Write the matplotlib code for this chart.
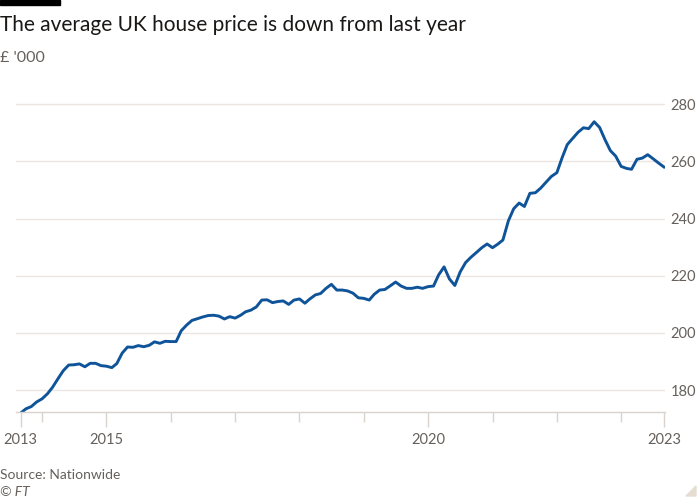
import numpy as np
import pandas as pd
import matplotlib
matplotlib.use('Agg')
import matplotlib.pyplot as plt
from matplotlib.patches import Rectangle, Polygon

# Nationwide average house price, monthly, Sep 2013 - Sep 2023 (£ '000)
start_month = '2013-09-01'
prices = [
    172.0, 173.5, 174.3, 175.9, 177.0, 178.8, 181.0, 184.0, 186.8, 188.8,
    188.9, 189.2, 188.2, 189.4, 189.4, 188.6, 188.4, 187.9, 189.3, 193.0,
    195.1, 195.0, 195.6, 195.2, 195.7, 196.9, 196.4, 197.1, 197.0, 197.0,
    200.8, 202.8, 204.4, 205.0, 205.6, 206.1, 206.2, 205.9, 204.9, 205.7,
    205.2, 206.2, 207.4, 208.0, 209.1, 211.5, 211.6, 210.6, 211.0, 211.2,
    210.0, 211.5, 211.9, 210.4, 211.9, 213.3, 213.8, 215.6, 217.0, 215.0,
    215.0, 214.7, 213.9, 212.3, 212.1, 211.5, 213.5, 215.0, 215.2, 216.5,
    217.8, 216.4, 215.6, 215.6, 216.0, 215.6, 216.2, 216.4, 220.3, 223.1,
    218.9, 216.6, 221.3, 224.6, 226.5, 228.1, 229.8, 231.1, 229.8, 231.1,
    232.5, 239.2, 243.4, 245.4, 244.2, 248.8, 249.0, 250.6, 252.7, 254.7,
    256.0, 261.4, 265.8, 268.0, 270.1, 271.7, 271.4, 273.8, 271.8, 267.6,
    263.7, 261.8, 258.2, 257.5, 257.2, 260.7, 261.1, 262.3, 260.9, 259.4,
    258.0,
]
dates = pd.date_range(start_month, periods=len(prices), freq='MS')

y_ticks = [180, 200, 220, 240, 260, 280]
major_labels = ['2013', '2015', '2020', '2023']
minor_years = [2014, 2016, 2017, 2018, 2019, 2021, 2022, 2023]

title = 'The average UK house price is down from last year'
subtitle = "£ '000"
source = 'Source: Nationwide'

plt.rcParams['font.family'] = ['Lato', 'DejaVu Sans']
grid_col = '#ebe6e1'
axis_col = '#d9d3cd'
text_grey = '#66605c'

fig = plt.figure(figsize=(7, 5), dpi=100)
ax = fig.add_axes([16/700, (500-411.7)/500, (665-16)/700, 313.4/500])

ax.plot(dates, prices, color='#0f5499', linewidth=2.1, solid_joinstyle='round')

ax.set_ylim(172.5, 282)
ax.set_xlim(dates[0] - pd.Timedelta(days=26), dates[-1] + pd.Timedelta(days=6))

# y axis on the right, gridlines only
ax.yaxis.tick_right()
ax.set_yticks(y_ticks)
ax.tick_params(axis='y', length=0, pad=4, labelsize=10.5, labelcolor=text_grey)
for v in y_ticks:
    ax.axhline(v, color=grid_col, linewidth=1, zorder=0)

# x axis ticks: first/last point plus 2015 and 2020
major_pos = [dates[0], pd.Timestamp('2015-01-01'), pd.Timestamp('2020-01-01'), dates[-1]]
ax.set_xticks(major_pos)
ax.set_xticklabels(major_labels)
ax.set_xticks([pd.Timestamp(f'{y}-01-01') for y in minor_years], minor=True)
ax.tick_params(axis='x', which='major', length=11, width=1, color=axis_col,
               pad=4, labelsize=10.5, labelcolor=text_grey)
ax.tick_params(axis='x', which='minor', length=7, width=1, color=axis_col)

for s in ['top', 'left', 'right']:
    ax.spines[s].set_visible(False)
ax.spines['bottom'].set_color(axis_col)
ax.spines['bottom'].set_linewidth(1)

# header and footer
fig.patches.append(Rectangle((0, 1 - 5/500), 60/700, 5/500, transform=fig.transFigure,
                             color='black', zorder=5))
fig.text(0, 1 - 25/500, title, fontsize=15, color='#1a1817', va='center', ha='left')
fig.text(0, 1 - 58/500, subtitle, fontsize=11.5, color=text_grey, va='center', ha='left')
fig.text(0, 1 - 475/500, source, fontsize=10, color=text_grey, va='center', ha='left')
fig.text(0, 1 - 492/500, '© FT', fontsize=10, color=text_grey, va='center', ha='left',
         style='italic')
fig.patches.append(Polygon([(1 - 4/700, 4/500), (1 - 4/700, 14/500), (1 - 14/700, 4/500)],
                           closed=True, transform=fig.transFigure, color='#e6ddd2'))

plt.savefig('out.png', dpi=100)
